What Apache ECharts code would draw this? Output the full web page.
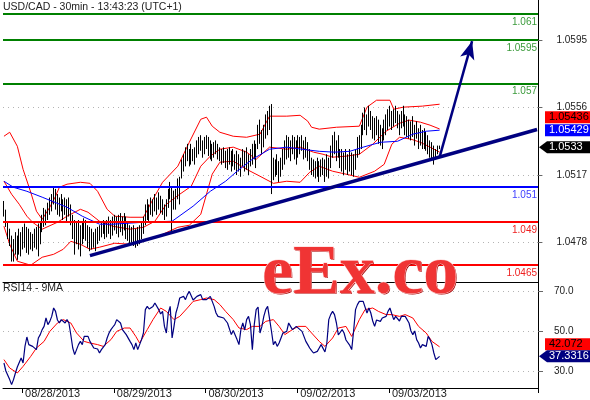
<!DOCTYPE html>
<html><head><meta charset="utf-8">
<script src="https://cdn.jsdelivr.net/npm/echarts@6/dist/echarts.min.js"></script>
<style>html,body{margin:0;padding:0;background:#fff}#c{width:590px;height:400px}</style>
</head><body><div id="c"></div>
<script>
const chartTitle = 'USD/CAD - 30min - 13:43:23 (UTC+1)';
const rsiTitle = 'RSI14 - 9MA';
const dayLabels = ['08/28/2013','08/29/2013','08/30/2013','09/02/2013','09/03/2013'];
const dayStartBar = [10, 58, 106, 154, 202];
const slotCount = 280;
const firstOpen = 1.0500;
const high = [1.0502,1.0497,1.0490,1.0486,1.0482,1.0480,1.0484,1.0482,1.0486,1.0484,
1.0487,1.0489,1.0487,1.0486,1.0484,1.0483,1.0486,1.0487,1.0489,1.0490,
1.0494,1.0498,1.0497,1.0501,1.0504,1.0506,1.0510,1.0509,1.0506,1.0504,
1.0506,1.0503,1.0504,1.0503,1.0504,1.0500,1.0494,1.0491,1.0490,1.0491,
1.0488,1.0490,1.0492,1.0491,1.0488,1.0487,1.0486,1.0484,1.0486,1.0487,
1.0488,1.0490,1.0491,1.0490,1.0491,1.0493,1.0491,1.0493,1.0494,1.0493,
1.0494,1.0495,1.0493,1.0495,1.0493,1.0490,1.0488,1.0487,1.0488,1.0486,
1.0487,1.0488,1.0490,1.0493,1.0500,1.0503,1.0500,1.0504,1.0503,1.0506,
1.0504,1.0507,1.0505,1.0503,1.0500,1.0503,1.0509,1.0513,1.0510,1.0508,
1.0509,1.0515,1.0516,1.0526,1.0529,1.0533,1.0535,1.0532,1.0535,1.0532,
1.0533,1.0537,1.0539,1.0540,1.0537,1.0539,1.0540,1.0539,1.0537,1.0535,
1.0536,1.0537,1.0535,1.0533,1.0532,1.0533,1.0531,1.0532,1.0533,1.0531,
1.0532,1.0529,1.0531,1.0529,1.0527,1.0532,1.0531,1.0533,1.0529,1.0532,
1.0535,1.0537,1.0535,1.0546,1.0549,1.0543,1.0546,1.0552,1.0554,1.0557,
1.0558,1.0527,1.0526,1.0529,1.0525,1.0527,1.0532,1.0537,1.0540,1.0539,
1.0537,1.0540,1.0539,1.0537,1.0540,1.0539,1.0540,1.0537,1.0539,1.0536,
1.0532,1.0527,1.0526,1.0525,1.0527,1.0525,1.0526,1.0527,1.0526,1.0529,
1.0527,1.0534,1.0540,1.0542,1.0537,1.0540,1.0532,1.0532,1.0530,1.0532,
1.0529,1.0532,1.0530,1.0529,1.0532,1.0539,1.0540,1.0546,1.0553,1.0556,
1.0552,1.0557,1.0554,1.0551,1.0550,1.0551,1.0549,1.0546,1.0544,1.0549,
1.0552,1.0555,1.0557,1.0554,1.0555,1.0557,1.0554,1.0552,1.0554,1.0557,
1.0552,1.0551,1.0549,1.0548,1.0551,1.0546,1.0548,1.0544,1.0546,1.0543,
1.0544,1.0542,1.0540,1.0537,1.0536,1.0534,1.0532,1.0534,1.0534];
const low = [1.0493,1.0487,1.0480,1.0476,1.0467,1.0467,1.0471,1.0468,1.0471,1.0470,
1.0474,1.0475,1.0472,1.0471,1.0474,1.0473,1.0475,1.0474,1.0470,1.0477,
1.0484,1.0487,1.0488,1.0491,1.0494,1.0496,1.0500,1.0497,1.0494,1.0493,
1.0496,1.0491,1.0494,1.0490,1.0493,1.0488,1.0480,1.0471,1.0477,1.0474,
1.0470,1.0477,1.0480,1.0479,1.0475,1.0473,1.0474,1.0475,1.0473,1.0477,
1.0479,1.0481,1.0483,1.0480,1.0481,1.0483,1.0480,1.0482,1.0485,1.0483,
1.0481,1.0484,1.0482,1.0485,1.0480,1.0479,1.0477,1.0478,1.0476,1.0475,
1.0476,1.0477,1.0480,1.0483,1.0488,1.0491,1.0490,1.0494,1.0493,1.0496,
1.0494,1.0497,1.0495,1.0494,1.0491,1.0493,1.0498,1.0503,1.0483,1.0497,
1.0497,1.0503,1.0500,1.0515,1.0519,1.0522,1.0525,1.0522,1.0523,1.0525,
1.0523,1.0527,1.0529,1.0531,1.0527,1.0529,1.0532,1.0528,1.0526,1.0525,
1.0527,1.0529,1.0526,1.0525,1.0523,1.0524,1.0521,1.0520,1.0523,1.0519,
1.0522,1.0520,1.0517,1.0519,1.0516,1.0522,1.0519,1.0520,1.0517,1.0522,
1.0523,1.0526,1.0521,1.0532,1.0535,1.0529,1.0533,1.0538,1.0540,1.0543,
1.0506,1.0514,1.0516,1.0517,1.0513,1.0516,1.0520,1.0523,1.0526,1.0527,
1.0525,1.0529,1.0526,1.0523,1.0527,1.0529,1.0531,1.0526,1.0527,1.0525,
1.0520,1.0517,1.0516,1.0515,1.0516,1.0513,1.0516,1.0517,1.0513,1.0516,
1.0515,1.0521,1.0527,1.0529,1.0525,1.0527,1.0521,1.0519,1.0517,1.0520,
1.0517,1.0519,1.0517,1.0516,1.0520,1.0527,1.0529,1.0532,1.0540,1.0543,
1.0540,1.0545,1.0543,1.0538,1.0537,1.0540,1.0535,1.0534,1.0532,1.0537,
1.0540,1.0543,1.0545,1.0543,1.0545,1.0547,1.0544,1.0540,1.0544,1.0545,
1.0540,1.0539,1.0538,1.0537,1.0539,1.0534,1.0538,1.0532,1.0534,1.0532,
1.0532,1.0531,1.0529,1.0527,1.0526,1.0523,1.0526,1.0529,1.0532];
const close = [1.0495,1.0488,1.0482,1.0479,1.0470,1.0476,1.0474,1.0478,1.0480,1.0475,
1.0482,1.0484,1.0478,1.0480,1.0477,1.0480,1.0483,1.0478,1.0485,1.0487,
1.0492,1.0495,1.0494,1.0499,1.0501,1.0504,1.0507,1.0503,1.0500,1.0498,
1.0502,1.0496,1.0500,1.0497,1.0496,1.0491,1.0484,1.0480,1.0485,1.0483,
1.0478,1.0486,1.0488,1.0485,1.0480,1.0478,1.0482,1.0480,1.0479,1.0484,
1.0486,1.0487,1.0489,1.0485,1.0488,1.0490,1.0486,1.0489,1.0492,1.0487,
1.0490,1.0492,1.0486,1.0491,1.0485,1.0483,1.0482,1.0484,1.0480,1.0479,
1.0483,1.0485,1.0487,1.0490,1.0497,1.0499,1.0495,1.0501,1.0498,1.0503,
1.0500,1.0504,1.0501,1.0497,1.0495,1.0499,1.0506,1.0509,1.0496,1.0504,
1.0505,1.0511,1.0513,1.0523,1.0526,1.0529,1.0531,1.0526,1.0530,1.0528,
1.0530,1.0534,1.0536,1.0533,1.0531,1.0535,1.0537,1.0532,1.0530,1.0528,
1.0533,1.0535,1.0529,1.0528,1.0526,1.0530,1.0524,1.0527,1.0530,1.0523,
1.0528,1.0524,1.0521,1.0526,1.0519,1.0528,1.0523,1.0530,1.0521,1.0527,
1.0531,1.0534,1.0528,1.0541,1.0538,1.0534,1.0543,1.0546,1.0550,1.0552,
1.0518,1.0520,1.0521,1.0525,1.0517,1.0524,1.0528,1.0533,1.0537,1.0531,
1.0534,1.0537,1.0530,1.0529,1.0536,1.0533,1.0537,1.0531,1.0534,1.0528,
1.0524,1.0521,1.0519,1.0522,1.0520,1.0518,1.0522,1.0520,1.0519,1.0525,
1.0519,1.0530,1.0536,1.0533,1.0530,1.0535,1.0524,1.0526,1.0522,1.0527,
1.0520,1.0528,1.0521,1.0519,1.0529,1.0535,1.0538,1.0542,1.0549,1.0551,
1.0545,1.0554,1.0548,1.0541,1.0546,1.0543,1.0539,1.0541,1.0536,1.0545,
1.0547,1.0551,1.0550,1.0546,1.0552,1.0550,1.0548,1.0545,1.0551,1.0549,
1.0544,1.0547,1.0542,1.0544,1.0546,1.0538,1.0543,1.0536,1.0541,1.0535,
1.0539,1.0534,1.0533,1.0530,1.0528,1.0527,1.0530,1.0532,1.0533];

const upperBand = [[0,1.05394],[3,1.05417],[7,1.05336],[10,1.05203],[14,1.05071],[17,1.04961],[20,1.04914],[24,1.04984],[27,1.05047],[29,1.05099],[33,1.05117],[40,1.05128],[45,1.05122],[49,1.05076],[54,1.04972],[58,1.04932],[66,1.04926],[73,1.04926],[78,1.0503],[83,1.05128],[91,1.05221],[97,1.05359],[103,1.05492],[106,1.05504],[109,1.05452],[113,1.05417],[120,1.05394],[127,1.05388],[134,1.05406],[139,1.0551],[148,1.0551],[155,1.05515],[159,1.05481],[161,1.05446],[165,1.05435],[174,1.05446],[186,1.05452],[190,1.05562],[195,1.05602],[202,1.05602],[204,1.0555],[209,1.05562],[219,1.05568],[228,1.05579]];
const middleBand = [[0,1.05134],[4,1.05059],[8,1.05001],[12,1.04932],[15,1.04897],[20,1.04857],[28,1.04897],[33,1.04932],[40,1.04972],[44,1.04955],[50,1.04903],[57,1.04874],[66,1.04857],[73,1.04868],[79,1.04903],[85,1.05001],[92,1.05059],[98,1.05105],[103,1.05221],[108,1.05279],[113,1.05319],[120,1.05331],[127,1.05302],[132,1.05261],[139,1.05331],[148,1.05319],[155,1.05331],[162,1.05302],[167,1.0529],[172,1.05273],[179,1.05279],[186,1.0529],[193,1.05348],[200,1.05423],[207,1.05469],[212,1.05487],[218,1.05475],[223,1.05458],[228,1.05436]];
const lowerBand = [[0,1.04874],[3,1.0477],[7,1.04672],[14,1.04649],[20,1.04695],[26,1.04712],[31,1.04741],[35,1.04787],[40,1.0477],[45,1.04741],[50,1.04753],[58,1.04776],[66,1.0477],[73,1.04787],[82,1.04822],[91,1.04868],[97,1.0488],[103,1.04943],[106,1.05059],[109,1.05175],[113,1.05244],[120,1.0525],[127,1.05203],[134,1.05163],[141,1.05122],[148,1.05134],[155,1.05128],[160,1.05186],[165,1.05221],[172,1.05192],[179,1.05175],[186,1.05157],[194,1.05192],[199,1.05232],[203,1.05348],[207,1.05388],[213,1.05377],[218,1.05359],[223,1.05331],[228,1.05302]];
const maBlue = [[0,1.05134],[5,1.05099],[12,1.05076],[20,1.05042],[33,1.04984],[41,1.04932],[50,1.04886],[57,1.04886],[73,1.04897],[88,1.04903],[99,1.0499],[108,1.05076],[116,1.05134],[122,1.05192],[130,1.05261],[139,1.05319],[148,1.05331],[156,1.05319],[165,1.05307],[173,1.05302],[181,1.05307],[188,1.05331],[197,1.05359],[206,1.05365],[214,1.05406],[221,1.05423],[228,1.05429]];

const rsi = [[0,34],[1,30],[3,25.7],[4,23.2],[5,25.7],[6,29],[7,32],[8,31.5],[9,36.5],[10,34],[11,42.3],[12,47],[13,43.2],[14,44],[15,42.3],[16,41.5],[17,40.7],[18,46.5],[19,48.2],[20,50.7],[21,52.3],[22,56.5],[23,53.2],[24,54.8],[25,57.3],[26,61.5],[27,59.8],[28,55.5],[29,54],[30,55.7],[31,56.5],[32,54],[33,55.7],[34,54],[35,48],[36,41.5],[37,38.2],[38,40.7],[39,43.2],[40,44.8],[41,43.2],[42,47.3],[43,48.2],[44,47.3],[45,44.8],[46,45.7],[47,41.5],[48,42.3],[49,41],[50,39],[51,40.7],[52,41.5],[53,43.2],[54,46.5],[55,49],[56,50.7],[57,52],[58,53.2],[59,55.7],[60,56.5],[61,54],[62,50.7],[63,50.5],[64,48.2],[65,49],[66,44.8],[67,43.2],[68,40.7],[69,44],[70,40.7],[71,43.2],[72,45.7],[73,49],[74,60.7],[75,62.3],[76,61],[77,61.5],[78,62.3],[79,64],[80,63.2],[81,60.7],[82,58.5],[83,59.8],[84,52.3],[85,49],[86,59],[87,62.3],[88,46.5],[89,52.3],[90,59],[91,62.3],[92,66.5],[93,65.7],[94,67.3],[95,65.7],[96,68.2],[97,69.8],[98,69],[99,65.5],[100,65.7],[101,67.3],[102,66.5],[103,68.2],[104,65.7],[105,66.5],[106,65.7],[107,66.5],[108,67.3],[109,64.8],[110,62.3],[111,59],[112,57.3],[113,56.5],[115,56.5],[117,54],[119,48.2],[120,50.2],[122,45.7],[123,43.2],[124,50.7],[125,54],[126,50.5],[127,55.7],[128,57.3],[129,53.2],[130,40.7],[131,53.2],[132,60.7],[133,62],[134,49],[135,52.3],[136,57.3],[137,60.7],[138,62.3],[139,63],[140,50],[141,43.2],[142,44.8],[143,42.3],[144,44],[145,46.5],[146,49],[147,50],[148,49.8],[149,54],[150,52.3],[151,50.7],[152,49.8],[153,52.3],[154,51.5],[156,49.8],[157,47.3],[158,44.8],[159,43.2],[160,41.5],[161,40.2],[162,39],[163,38.2],[164,39.8],[165,41.5],[166,43.2],[167,43.5],[168,39.5],[169,44],[170,55.7],[171,58.2],[172,59.8],[173,58.2],[174,54],[175,48],[176,47.3],[177,50.7],[178,49],[179,45.5],[180,44.8],[181,42.8],[182,40.7],[183,50],[184,60.7],[185,63.2],[186,64.8],[187,65.5],[188,64.8],[189,64],[190,59],[191,61.5],[192,59],[193,55],[194,52.3],[195,55.5],[196,55.7],[197,54.8],[198,56.5],[199,55.7],[200,57.3],[201,59.8],[202,61.5],[203,58.5],[204,55.7],[205,57.3],[206,58.2],[207,55],[208,57.3],[209,58.2],[210,57.3],[211,57.3],[212,54],[213,50],[214,48.2],[215,50],[216,45.7],[217,44],[218,41.5],[219,43.2],[220,44],[221,42.3],[222,47.3],[223,45.7],[224,43.2],[225,39],[226,35.7],[227,36.5],[228,37.3316]];
const rsiMA = [[0,35.7],[3,31.5],[7,29],[10,32.3],[14,37.3],[17,41.5],[21,44.8],[24,49.8],[28,54],[31,55.7],[35,54],[38,49],[42,44.8],[45,44],[49,43.2],[52,42.3],[56,45.7],[59,49.8],[63,51.5],[66,51.5],[69,47.3],[71,44],[75,50.7],[78,55.7],[82,61.5],[85,59.8],[89,55.7],[92,57.3],[96,61.5],[99,64.8],[103,65.7],[106,66.5],[110,65.7],[113,63.2],[116,59.8],[120,55.7],[123,51.5],[127,50.7],[130,52.3],[134,52.3],[137,54.8],[141,55.7],[144,52.3],[147,48.2],[151,50.7],[154,52.3],[158,52.3],[161,49],[165,44.8],[168,42.3],[172,46.5],[175,51.5],[179,52.3],[182,47.3],[186,55.7],[189,60.7],[193,61.5],[196,59.8],[200,58.2],[203,58.2],[207,57.3],[210,58.2],[214,56.5],[217,52.3],[221,49],[224,44.8],[228,42.072]];

const priceTicks = [1.0478, 1.0517, 1.0556, 1.0595];
const rsiTicks = [30, 50, 70];
const greenLevels = [1.061, 1.0595, 1.057];
const blueLevels = [1.051];
const redLevels = [1.049, 1.0465];
const trendLine = [[45, 1.04704], [279, 1.05433]];
const arrowLine = [[228, 1.05273], [245, 1.05943]];
const lastPrice = 1.0533, lastRed = 1.05436, lastBlue = 1.05429;
const lastRsi = 37.3316, lastRsiMA = 42.072;

// layout
const priceAxisMin = 1.04552, priceAxisMax = 1.06181;
const rsiAxisMin = 21.5, rsiAxisMax = 74.5;
const FONT = '"Liberation Sans", Arial, sans-serif';

const categories = Array.from({length: slotCount}, (_, i) => {
  const k = dayStartBar.indexOf(i); return k >= 0 ? dayLabels[k] : '';
});
const ohlc = close.map((c, i) => [i === 0 ? firstOpen : close[i - 1], c, low[i], high[i]]);
const isDay = (idx) => dayStartBar.indexOf(idx) >= 0;

function levelLine(v, color, labelColor) {
  return {yAxis: v, lineStyle: {color: color, width: 2, type: 'solid'},
    label: {show: true, position: 'insideEndBottom', formatter: String(v), color: labelColor,
      fontSize: 10, fontFamily: FONT, distance: [1, 3]}};
}

const chart = echarts.init(document.getElementById('c'));
const grids = [
  {left: 3, right: 52, top: 0, height: 282},
  {left: 3, right: 52, top: 40, height: 202.5},
  {left: 3, right: 52, top: 282, height: 106},
  {left: 3, right: 52, top: 291, height: 80}
];
const hiddenX = (g) => ({type: 'category', gridIndex: g, data: categories, show: false, boundaryGap: true});
const option = {
  animation: false,
  backgroundColor: '#fff',
  grid: grids,
  xAxis: [
    {type: 'category', gridIndex: 0, data: categories, boundaryGap: true,
     axisLine: {show: true, lineStyle: {color: '#000', width: 1}}, axisTick: {show: false}, axisLabel: {show: false}},
    hiddenX(1),
    {type: 'category', gridIndex: 2, data: categories, boundaryGap: true,
     axisLine: {show: true, lineStyle: {color: '#000', width: 1}},
     axisTick: {show: true, interval: isDay, length: 5, lineStyle: {color: '#000'}},
     axisLabel: {show: true, interval: isDay, align: 'left', margin: 0, padding: [0, 0, 0, 2],
       fontSize: 11, fontFamily: FONT, color: '#222'}},
    hiddenX(3)
  ],
  yAxis: [
    {type: 'value', gridIndex: 0, position: 'right', min: priceAxisMin, max: priceAxisMax,
     axisLine: {show: true, lineStyle: {color: '#000'}}, axisTick: {show: false}, axisLabel: {show: false}, splitLine: {show: false}},
    {type: 'value', gridIndex: 1, position: 'right', min: 0, max: priceTicks.length - 1, interval: 1,
     axisLine: {show: false}, axisTick: {show: true, length: 5, lineStyle: {color: '#666'}},
     axisLabel: {show: true, margin: 19, fontSize: 10, fontFamily: FONT, color: '#222',
       formatter: (v) => priceTicks[Math.round(v)].toFixed(4)},
     splitLine: {show: true, lineStyle: {color: '#b4b4b4', type: [1, 4], width: 1}}},
    {type: 'value', gridIndex: 2, position: 'right', min: rsiAxisMin, max: rsiAxisMax,
     axisLine: {show: true, lineStyle: {color: '#000'}}, axisTick: {show: false}, axisLabel: {show: false}, splitLine: {show: false}},
    {type: 'value', gridIndex: 3, position: 'right', min: 0, max: rsiTicks.length - 1, interval: 1,
     axisLine: {show: false}, axisTick: {show: true, length: 5, lineStyle: {color: '#666'}},
     axisLabel: {show: true, margin: 16, fontSize: 10, fontFamily: FONT, color: '#222',
       formatter: (v) => rsiTicks[Math.round(v)].toFixed(1)},
     splitLine: {show: true, lineStyle: {color: '#b4b4b4', type: [1, 4], width: 1}}}
  ],
  series: [
    {type: 'line', xAxisIndex: 0, yAxisIndex: 0, data: upperBand, showSymbol: false, symbol: 'none',
     lineStyle: {color: '#ff0000', width: 1}, z: 2},
    {type: 'line', xAxisIndex: 0, yAxisIndex: 0, data: middleBand, showSymbol: false, symbol: 'none',
     lineStyle: {color: '#ff0000', width: 1}, z: 2},
    {type: 'line', xAxisIndex: 0, yAxisIndex: 0, data: lowerBand, showSymbol: false, symbol: 'none',
     lineStyle: {color: '#ff0000', width: 1}, z: 2},
    {type: 'line', xAxisIndex: 0, yAxisIndex: 0, data: maBlue, showSymbol: false, symbol: 'none',
     lineStyle: {color: '#0000ff', width: 1}, z: 4,
     markLine: {silent: true, symbol: ['none', 'none'], animation: false, precision: 6,
       data: [
         ...greenLevels.map(v => levelLine(v, '#008000', '#3a9a3a')),
         ...blueLevels.map(v => levelLine(v, '#0000ff', '#4040ff')),
         ...redLevels.map(v => levelLine(v, '#ff0000', '#ee2020')),
         [{coord: trendLine[0], lineStyle: {color: '#000080', width: 3.5, type: 'solid'}, label: {show: false}},
          {coord: trendLine[1]}],
         [{coord: arrowLine[0], symbol: 'none', lineStyle: {color: '#000080', width: 2.5, type: 'solid'}, label: {show: false}},
          {coord: arrowLine[1], symbol: 'arrow', symbolSize: [11, 18]}]
       ]}},
    {type: 'candlestick', xAxisIndex: 0, yAxisIndex: 0, data: ohlc, barWidth: 1, z: 3,
     itemStyle: {color: '#000', color0: '#000', borderColor: '#000', borderColor0: '#000', borderWidth: 1}},
    {type: 'line', xAxisIndex: 2, yAxisIndex: 2, data: rsiMA, showSymbol: false, symbol: 'none',
     lineStyle: {color: '#ff0000', width: 1}},
    {type: 'line', xAxisIndex: 2, yAxisIndex: 2, data: rsi, showSymbol: false, symbol: 'none',
     lineStyle: {color: '#000080', width: 1.2}}
  ]
};
chart.setOption(option);

function tag(yPix, txt, bg, fg, arrow) {
  const h = 12, x0 = arrow ? 547 : 545, x1 = 590;
  const shape = arrow
    ? {type: 'polygon', shape: {points: [[539, yPix], [x0, yPix - h / 2], [x1, yPix - h / 2], [x1, yPix + h / 2], [x0, yPix + h / 2]]}, style: {fill: bg}, z: 200}
    : {type: 'rect', shape: {x: x0, y: yPix - h / 2, width: x1 - x0, height: h}, style: {fill: bg}, z: 200};
  return [shape, {type: 'text', x: 549, y: yPix, z: 201,
    style: {text: txt, fill: fg, font: '11px ' + FONT, align: 'left', verticalAlign: 'middle', textAlign: 'left', textVerticalAlign: 'middle'}}];
}
const yPx = (axis, v) => chart.convertToPixel({yAxisIndex: axis}, v);
const yBlue = yPx(0, lastBlue);
const yRed = yBlue - 13;
const yPrice = yPx(0, lastPrice);
const yRsi = yPx(2, lastRsi);
const yRsiMA = Math.min(yPx(2, lastRsiMA), yRsi - 12);

chart.setOption({graphic: [
  {type: 'text', x: 3, y: 7, z: 150, style: {text: chartTitle, fill: '#222', font: '10.5px ' + FONT, align: 'left', verticalAlign: 'middle', textAlign: 'left', textVerticalAlign: 'middle'}},
  {type: 'text', x: 3, y: 288.5, z: 150, style: {text: rsiTitle, fill: '#222', font: '10.5px ' + FONT, align: 'left', verticalAlign: 'middle', textAlign: 'left', textVerticalAlign: 'middle'}},
  {type: 'text', x: 263, y: 276, z: 179, style: {text: 'eEx.co', fill: '#a80000',
    font: 'bold 70px "Liberation Serif", serif', align: 'left', verticalAlign: 'middle', textAlign: 'left', textVerticalAlign: 'middle'}},
  {type: 'text', x: 262, y: 275, z: 180, style: {text: 'eEx.co', fill: '#f03434', stroke: '#ffd0d0', lineWidth: 1,
    font: 'bold 70px "Liberation Serif", serif', align: 'left', verticalAlign: 'middle', textAlign: 'left', textVerticalAlign: 'middle'}},
  ...tag(yRed, lastRed.toFixed(5), '#ff0000', '#000', false),
  ...tag(yBlue, lastBlue.toFixed(5), '#0000ff', '#fff', false),
  ...tag(yPrice, lastPrice.toFixed(4), '#000', '#fff', true),
  ...tag(yRsiMA, lastRsiMA.toFixed(3), '#ff0000', '#000', false),
  ...tag(yRsi, lastRsi.toFixed(4), '#000080', '#fff', true)
]});
</script>
</body></html>
